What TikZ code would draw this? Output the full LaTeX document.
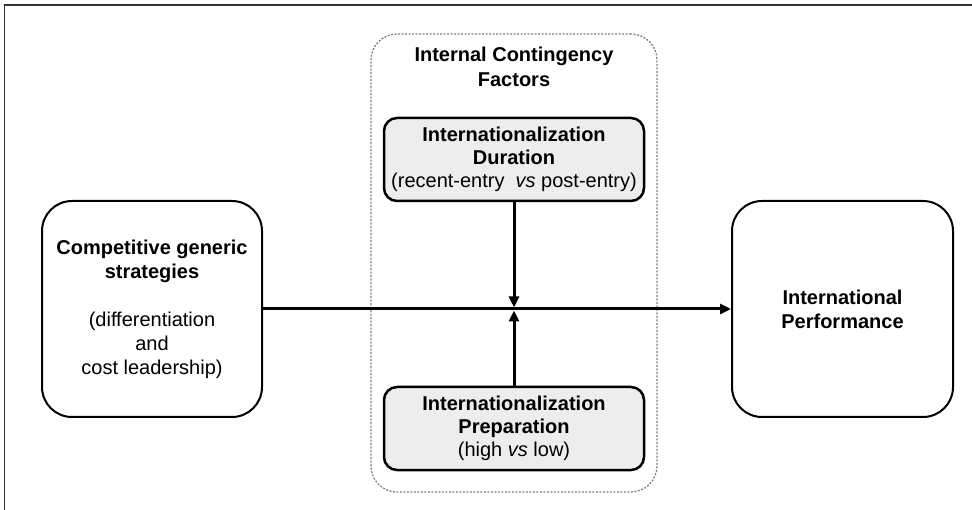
\documentclass[tikz,border=0pt]{standalone}
\usepackage{fontspec}
\setmainfont{Liberation Sans}
\usetikzlibrary{arrows.meta}
\definecolor{boxgray}{HTML}{EDEDED}
\definecolor{dashgray}{HTML}{808080}
\definecolor{framegray}{HTML}{333333}
\tikzset{
  mainbox/.style={draw=black, line width=2pt, rounded corners=30pt, align=center, fill=white,
    font=\fontsize{20}{24}\selectfont, inner sep=0pt},
  graybox/.style={draw=black, line width=2.5pt, rounded corners=13pt, align=center, fill=boxgray,
    minimum width=260pt, minimum height=83pt, font=\fontsize{20}{23}\selectfont, inner sep=0pt},
  dashbox/.style={draw=dashgray, line width=1.3pt, dash pattern=on 2pt off 1.5pt, rounded corners=26pt,
    minimum width=286pt, minimum height=458pt, inner sep=0pt},
  titletext/.style={align=center, font=\fontsize{20}{25}\selectfont\bfseries, inner sep=0pt},
  arrowline/.style={draw=black, line width=3pt, -{Triangle[length=11pt,width=10pt]}},
}
\begin{document}
\begin{tikzpicture}[x=1pt, y=-1pt]
\useasboundingbox (0,0) rectangle (972,510);
\draw[framegray, line width=1.5pt] (4.5,510) -- (4.5,5) -- (972,5);
\node[dashbox] (icf) at (514,263) {};
\node[titletext] (title) at (514,67) {Internal Contingency\\Factors};
\node[mainbox, minimum width=220pt, minimum height=216pt] (cgs) at (152,309)
  {\textbf{Competitive generic}\\\textbf{strategies}\\[24pt](differentiation\\and\\cost leadership)};
\node[mainbox, minimum width=221pt, minimum height=216pt] (perf) at (842.5,309)
  {\textbf{International}\\\textbf{Performance}};
\node[graybox] (dur) at (514,159.5)
  {\textbf{Internationalization}\\\textbf{Duration}\\(recent-entry~ \textit{vs} post-entry)};
\node[graybox] (prep) at (514,428.5)
  {\textbf{Internationalization}\\\textbf{Preparation}\\(high \textit{vs} low)};
\coordinate (jt) at (514,307.5);
\coordinate (jb) at (514,310.5);
\draw[arrowline] (cgs.east) -- (perf.west);
\draw[arrowline] (dur.south) -- (jt);
\draw[arrowline] (prep.north) -- (jb);
\end{tikzpicture}
\end{document}
